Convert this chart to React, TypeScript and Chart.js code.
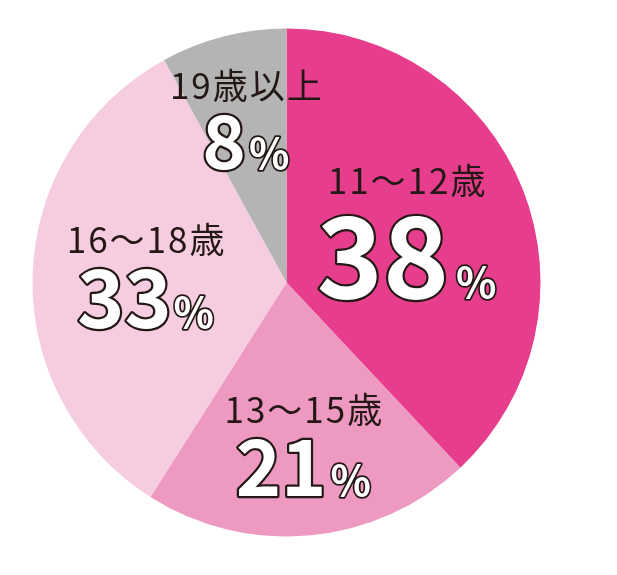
import { useEffect, useRef } from "react";
import { Chart, PieController, ArcElement } from "chart.js";
import type { Plugin } from "chart.js";

Chart.register(PieController, ArcElement);

const CATEGORIES = ["11〜12歳", "13〜15歳", "16〜18歳", "19歳以上"];
const VALUES = [38, 21, 33, 8];
const COLORS = ["#E63E8D", "#EE99C1", "#F6CCE0", "#B4B4B4"];

// label placement: fraction of radius at slice mid-angle, then pixel nudge
const LABEL_POS = [
  { f: 0.534, dx: -6, dy: -13, half: 38, num: 112, pct: 42, gap: 7 },
  { f: 0.62, dx: 2, dy: 0, half: 28.5, num: 77, pct: 42, gap: 4 },
  { f: 0.555, dx: 0, dy: -8, half: 29, num: 80, pct: 42, gap: 2 },
  { f: 0.675, dx: 2, dy: -2, half: 27.5, num: 74, pct: 42, gap: 3 },
];

const FONT = '"Noto Sans CJK JP", "Noto Sans", sans-serif';
const INK = "#231815";

const labelPlugin: Plugin<"pie"> = {
  id: "sliceLabels",
  afterDatasetsDraw(chart) {
    const ctx = chart.ctx as any;
    const meta = chart.getDatasetMeta(0);
    meta.data.forEach((el, i) => {
      const p = el.getProps(["x", "y", "startAngle", "endAngle", "outerRadius"], true) as any;
      const pos = LABEL_POS[i];
      const mid = (p.startAngle + p.endAngle) / 2;
      const r = p.outerRadius * pos.f;
      const ax = p.x + Math.cos(mid) * r + pos.dx;
      const ay = p.y + Math.sin(mid) * r + pos.dy;

      ctx.save();
      ctx.textBaseline = "alphabetic";
      ctx.textAlign = "left";

      // category
      ctx.font = `400 35px ${FONT}`;
      ctx.letterSpacing = "2px";
      ctx.fillStyle = INK;
      const cw = ctx.measureText(CATEGORIES[i]).width - 2;
      ctx.fillText(CATEGORIES[i], ax - cw / 2, ay - pos.half + 12);
      ctx.letterSpacing = "0px";

      // big number + small %
      const numText = String(VALUES[i]);
      ctx.font = `700 ${pos.num}px ${FONT}`;
      const nw = ctx.measureText(numText).width;
      ctx.font = `700 ${pos.pct}px ${FONT}`;
      const pw = ctx.measureText("%").width;
      const total = nw + pos.gap + pw;
      const left = ax - total / 2;
      const base = ay + pos.half + pos.num * 0.36;

      ctx.lineJoin = "round";
      ctx.strokeStyle = INK;
      ctx.fillStyle = "#ffffff";

      ctx.font = `700 ${pos.num}px ${FONT}`;
      ctx.lineWidth = 4.5;
      ctx.strokeText(numText, left, base);
      ctx.fillText(numText, left, base);

      ctx.font = `700 ${pos.pct}px ${FONT}`;
      ctx.lineWidth = 3.5;
      ctx.strokeText("%", left + nw + pos.gap, base);
      ctx.fillText("%", left + nw + pos.gap, base);
      ctx.restore();
    });
  },
};

export default function App() {
  const canvasRef = useRef<HTMLCanvasElement>(null);
  const chartRef = useRef<Chart<"pie"> | null>(null);

  useEffect(() => {
    if (!canvasRef.current || chartRef.current) return;

    chartRef.current = new Chart(canvasRef.current, {
      type: "pie",
      data: {
        labels: CATEGORIES,
        datasets: [
          {
            data: VALUES,
            backgroundColor: COLORS,
            borderWidth: 0,
          },
        ],
      },
      options: {
        responsive: false,
        animation: false,
        layout: {
          padding: { left: 32.5, right: 76.5, top: 28.5, bottom: 38.5 },
        },
        plugins: {
          legend: { display: false },
          tooltip: { enabled: false },
        },
      },
      plugins: [labelPlugin],
    });

    return () => {
      chartRef.current?.destroy();
      chartRef.current = null;
    };
  }, []);

  return (
    <div
      style={{
        position: "fixed",
        left: 0,
        top: 0,
        width: 617,
        height: 575,
        background: "#ffffff",
      }}
    >
      <canvas ref={canvasRef} width={617} height={575} />
    </div>
  );
}
